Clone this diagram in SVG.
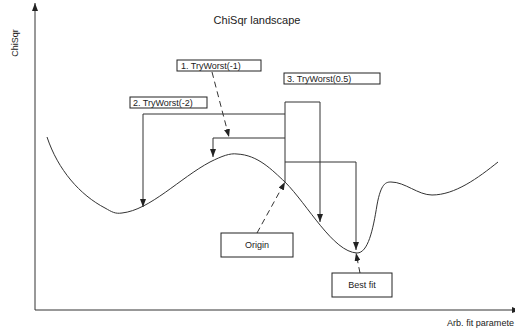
<svg xmlns="http://www.w3.org/2000/svg" width="515" height="332" viewBox="0 0 515 332">
<defs>
<marker id="arr" markerWidth="8" markerHeight="6" refX="8" refY="3" orient="auto" markerUnits="userSpaceOnUse">
<path d="M0,0 L8,3 L0,6 z" fill="#222"/>
</marker>
<style>
.t{font-family:"Liberation Sans",Arial,sans-serif;fill:#222}
.box{fill:#fff;stroke:#222;stroke-width:1}
.ln{fill:none;stroke:#333;stroke-width:1}
.dash{fill:none;stroke:#333;stroke-width:1;stroke-dasharray:6,4}
</style>
</defs>
<rect width="515" height="332" fill="#fff"/>
<g id="axes">
<line class="ln" x1="35" y1="310" x2="35" y2="3" marker-end="url(#arr)"/>
<line class="ln" x1="35" y1="310" x2="520" y2="310" marker-end="url(#arr)"/>
<text class="t" font-size="9" transform="translate(18,43) rotate(-90)" text-anchor="middle">ChiSqr</text>
<text class="t" font-size="9" x="447" y="326" textLength="67" lengthAdjust="spacingAndGlyphs">Arb. fit paramete</text>
</g>
<g id="title"><text class="t" font-size="11" x="257" y="24" text-anchor="middle">ChiSqr landscape</text></g>
<g id="curve">
<path class="ln" d="M47,137 C58,170 80,195 105,208 C112,212 115,214 122,213 C150,210 180,178 210,162 C222,156 230,153 237,154 C258,155 272,170 285,182 C308,205 333,252 357,253 C368,253 373,230 377,205 C381,183 386,182 391,182 C405,182 418,195 432,195 C455,195 478,178 498,162"/>
</g>
<g id="connectors">
<polyline class="ln" points="285,114 143,114 143,207" marker-end="url(#arr)"/>
<polyline class="ln" points="285,138 213,138 213,157" marker-end="url(#arr)"/>
<polyline class="ln" points="285,182 285,102 320,102 320,222" marker-end="url(#arr)"/>
<polyline class="ln" points="285,162 356,162 356,250" marker-end="url(#arr)"/>
<line class="dash" x1="212" y1="72" x2="229" y2="137" marker-end="url(#arr)"/>
<line class="dash" x1="257" y1="233" x2="285" y2="182" marker-end="url(#arr)"/>
<line class="dash" x1="360" y1="273" x2="356" y2="253" marker-end="url(#arr)"/>
</g>
<g id="box1"><rect class="box" x="177" y="60" width="84" height="11"/><text class="t" font-size="9" x="181" y="69">1. TryWorst(-1)</text></g>
<g id="box2"><rect class="box" x="130" y="97" width="77" height="11"/><text class="t" font-size="9" x="133" y="106">2. TryWorst(-2)</text></g>
<g id="box3"><rect class="box" x="284" y="73" width="96" height="11"/><text class="t" font-size="9" x="287" y="82">3. TryWorst(0.5)</text></g>
<g id="origin"><rect class="box" x="221" y="233" width="72" height="24"/><text class="t" font-size="9" x="257" y="248" text-anchor="middle">Origin</text></g>
<g id="bestfit"><rect class="box" x="332" y="273" width="60" height="24"/><text class="t" font-size="9" x="362" y="288" text-anchor="middle">Best fit</text></g>
</svg>
